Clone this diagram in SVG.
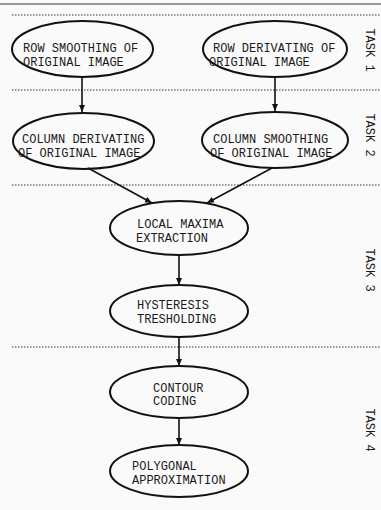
<svg xmlns="http://www.w3.org/2000/svg" width="381" height="510" viewBox="0 0 381 510">
<style>
.bg{fill:#fafafa}
.node ellipse{fill:none;stroke:#111;stroke-width:2}
.node text,.task{font-family:"Liberation Mono","Courier New",monospace;font-size:12px;fill:#1a1a1a}
.sep{stroke:#333;stroke-width:1.2;stroke-dasharray:1.5 1.5}
.edge{stroke:#111;stroke-width:1.6;fill:none;marker-end:url(#ah)}
</style>
<defs>
<marker id="ah" markerWidth="8" markerHeight="8" refX="7" refY="4" orient="auto" markerUnits="userSpaceOnUse">
<path d="M0,1 L7,4 L0,7 Z" fill="#111"/>
</marker>
</defs>
<rect class="bg" x="0" y="0" width="381" height="510"/>
<line x1="0" y1="4" x2="381" y2="4" stroke="#999" stroke-width="2"/>
<g id="separators">
<line class="sep" x1="12" y1="15" x2="381" y2="15"/>
<line class="sep" x1="12" y1="90" x2="381" y2="90"/>
<line class="sep" x1="12" y1="185" x2="381" y2="185"/>
<line class="sep" x1="12" y1="347" x2="381" y2="347"/>
</g>
<g id="task-labels">
<text class="task" transform="translate(366,50) rotate(90)" text-anchor="middle">TASK 1</text>
<text class="task" transform="translate(366,135) rotate(90)" text-anchor="middle">TASK 2</text>
<text class="task" transform="translate(366,270) rotate(90)" text-anchor="middle">TASK 3</text>
<text class="task" transform="translate(366,430) rotate(90)" text-anchor="middle">TASK 4</text>
</g>
<g id="connectors">
<line class="edge" x1="82" y1="77" x2="82" y2="112"/>
<line class="edge" x1="275" y1="77" x2="275" y2="111"/>
<line class="edge" x1="88" y1="168" x2="152" y2="203"/>
<line class="edge" x1="272" y1="168" x2="207" y2="203"/>
<line class="edge" x1="179" y1="255" x2="179" y2="285"/>
<line class="edge" x1="179" y1="337" x2="179" y2="366"/>
<line class="edge" x1="179" y1="418" x2="179" y2="445"/>
</g>
<g id="n1" class="node">
<ellipse cx="82.5" cy="49" rx="70.5" ry="28"/>
<text x="23" y="51.5">ROW SMOOTHING OF</text>
<text x="23" y="66">ORIGINAL IMAGE</text>
</g>
<g id="n2" class="node">
<ellipse cx="275" cy="49" rx="72" ry="28"/>
<text x="213" y="51.5">ROW DERIVATING OF</text>
<text x="209" y="66">ORIGINAL IMAGE</text>
</g>
<g id="n3" class="node">
<ellipse cx="83.5" cy="141" rx="70.5" ry="28"/>
<text x="22" y="142.5">COLUMN DERIVATING</text>
<text x="18" y="156.5">OF ORIGINAL IMAGE</text>
</g>
<g id="n4" class="node">
<ellipse cx="275" cy="140" rx="73" ry="28"/>
<text x="213" y="142.5">COLUMN SMOOTHING</text>
<text x="210" y="156.5">OF ORIGINAL IMAGE</text>
</g>
<g id="n5" class="node">
<ellipse cx="179" cy="228" rx="69" ry="27"/>
<text x="137" y="227.5">LOCAL MAXIMA</text>
<text x="136" y="241.5">EXTRACTION</text>
</g>
<g id="n6" class="node">
<ellipse cx="179" cy="311" rx="69" ry="26"/>
<text x="137" y="309">HYSTERESIS</text>
<text x="137" y="322.5">TRESHOLDING</text>
</g>
<g id="n7" class="node">
<ellipse cx="179" cy="392" rx="69" ry="26"/>
<text x="153" y="391.5">CONTOUR</text>
<text x="153" y="405">CODING</text>
</g>
<g id="n8" class="node">
<ellipse cx="179" cy="471" rx="69" ry="26"/>
<text x="132" y="470">POLYGONAL</text>
<text x="132" y="483.5">APPROXIMATION</text>
</g>
</svg>
